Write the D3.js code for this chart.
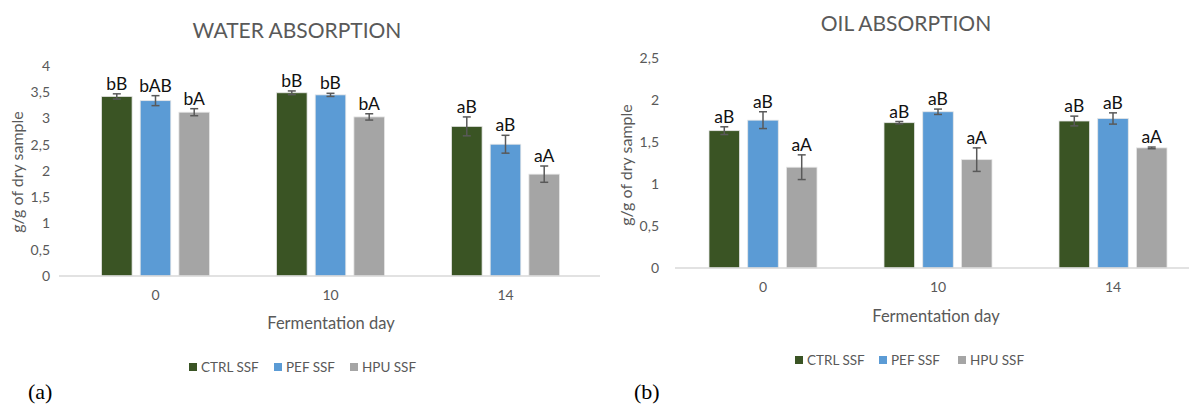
<!DOCTYPE html>
<html>
<head>
<meta charset="utf-8">
<script src="https://cdn.jsdelivr.net/npm/d3@7"></script>
<style>
  body { margin: 0; background: #fff; }
  svg text { font-family: Lato, "Open Sans", sans-serif; }
</style>
</head>
<body>
<div id="chart"></div>
<script>
// shared categories / series
var days = ["0", "10", "14"];
var series = ["CTRL SSF", "PEF SSF", "HPU SSF"];
var colors = ["#3a5424", "#5b9bd5", "#a5a5a5"];

// water absorption (g/g), per series over days
var waterCtrl = [3.42, 3.49, 2.85];
var waterPef = [3.34, 3.45, 2.51];
var waterHpu = [3.12, 3.03, 1.94];
var waterCtrlErr = [0.05, 0.035, 0.18];
var waterPefErr = [0.095, 0.03, 0.17];
var waterHpuErr = [0.067, 0.06, 0.155];
var waterLetters = [["bB", "bB", "aB"], ["bAB", "bB", "aB"], ["bA", "bA", "aA"]];
var waterTicks = [0, 0.5, 1, 1.5, 2, 2.5, 3, 3.5, 4];

// oil absorption (g/g)
var oilCtrl = [1.635, 1.73, 1.75];
var oilPef = [1.76, 1.86, 1.78];
var oilHpu = [1.20, 1.29, 1.43];
var oilCtrlErr = [0.046, 0.014, 0.058];
var oilPefErr = [0.1, 0.032, 0.067];
var oilHpuErr = [0.147, 0.14, 0.01];
var oilLetters = [["aB", "aB", "aB"], ["aB", "aB", "aB"], ["aA", "aA", "aA"]];
var oilTicks = [0, 0.5, 1, 1.5, 2, 2.5];

var svg = d3.select("#chart").append("svg")
	.attr("width", 1189)
	.attr("height", 407);

function fmt(v) {
	return String(v).replace(".", ",");
}

function drawPanel(cfg) {
	var g = svg.append("g");
	var values = cfg.values, errs = cfg.errs;

	var y = d3.scaleLinear().domain(cfg.domain).range([cfg.y0, cfg.y1]);
	var x = d3.scaleBand().domain(days).range(cfg.xRange).padding(0);
	var inner = d3.scaleBand().domain(series).range([-54, 54]).paddingInner(0.21).paddingOuter(0);

	// title
	g.append("text")
		.attr("x", cfg.titleX).attr("y", cfg.titleY)
		.attr("text-anchor", "middle")
		.attr("fill", "#595959")
		.style("font-size", "21px")
		.text(cfg.title);

	// y tick labels (no axis line, like Excel)
	var yAxis = d3.axisLeft(y).tickValues(cfg.ticks).tickSize(0).tickFormat(fmt);
	var ya = g.append("g")
		.attr("transform", "translate(" + cfg.yLabelX + ",0)")
		.call(yAxis);
	ya.select(".domain").remove();
	ya.selectAll("text")
		.attr("fill", "#595959")
		.style("font-size", "14px")
		.style("font-family", "Lato, sans-serif");

	// y title
	g.append("text")
		.attr("transform", "translate(" + cfg.yTitleX + "," + cfg.yTitleY + ") rotate(-90)")
		.attr("text-anchor", "middle")
		.attr("fill", "#595959")
		.style("font-size", "16px")
		.text("g/g of dry sample");

	// bars
	series.forEach(function(s, si) {
		var grp = g.append("g");
		grp.selectAll("rect")
			.data(values[si])
			.enter().append("rect")
			.attr("x", function(d, i) { return x(days[i]) + x.bandwidth() / 2 + inner(s); })
			.attr("y", function(d) { return y(d); })
			.attr("width", inner.bandwidth())
			.attr("height", function(d) { return y(0) - y(d); })
			.attr("fill", colors[si])
			.attr("stroke", "#e6e6e6")
			.attr("stroke-width", 0.8);

		// error bars + letters
		values[si].forEach(function(d, i) {
			var cx = x(days[i]) + x.bandwidth() / 2 + inner(s) + inner.bandwidth() / 2;
			var top = y(d + errs[si][i]), bot = y(d - errs[si][i]);
			var eb = grp.append("g").attr("stroke", "#595959").attr("stroke-width", 1.5);
			eb.append("line").attr("x1", cx).attr("x2", cx).attr("y1", top).attr("y2", bot);
			eb.append("line").attr("x1", cx - 4).attr("x2", cx + 4).attr("y1", top).attr("y2", top);
			eb.append("line").attr("x1", cx - 4).attr("x2", cx + 4).attr("y1", bot).attr("y2", bot);

			grp.append("text")
				.attr("x", cx)
				.attr("y", top - 4)
				.attr("text-anchor", "middle")
				.attr("fill", "#111")
				.style("font-size", "17.5px")
				.text(cfg.letters[si][i]);
		});
	});

	// x axis line
	g.append("line")
		.attr("x1", cfg.axisX[0]).attr("x2", cfg.axisX[1])
		.attr("y1", y(0)).attr("y2", y(0))
		.attr("stroke", "#d9d9d9").attr("stroke-width", 1.5);

	var xAxis = d3.axisBottom(x).tickSize(0).tickPadding(14);
	var xa = g.append("g")
		.attr("transform", "translate(0," + y(0) + ")")
		.call(xAxis);
	xa.select(".domain").remove();
	xa.selectAll("text")
		.attr("fill", "#595959")
		.style("font-size", "14px")
		.style("font-family", "Lato, sans-serif");

	g.append("text")
		.attr("x", cfg.xTitleX).attr("y", cfg.xTitleY)
		.attr("text-anchor", "middle")
		.attr("fill", "#595959")
		.style("font-size", "16.5px")
		.text("Fermentation day");

	// legend
	var lg = g.append("g").attr("transform", "translate(0," + cfg.legendY + ")");
	series.forEach(function(s, si) {
		var lx = cfg.legendX[si];
		lg.append("rect").attr("x", lx).attr("y", -9).attr("width", 8).attr("height", 8).attr("fill", colors[si]);
		lg.append("text").attr("x", lx + 12).attr("y", 0)
			.attr("fill", "#595959")
			.style("font-size", "13.5px")
			.text(s);
	});

	// panel tag
	g.append("text")
		.attr("x", cfg.tagX).attr("y", 399)
		.style("font-family", "'Liberation Serif', 'DejaVu Serif', serif")
		.style("font-size", "22px")
		.attr("fill", "#000")
		.text(cfg.tag);
}

drawPanel({
	title: "WATER ABSORPTION", titleX: 297, titleY: 38,
	values: [waterCtrl, waterPef, waterHpu],
	errs: [waterCtrlErr, waterPefErr, waterHpuErr],
	letters: waterLetters,
	domain: [0, 4], y0: 276, y1: 66, ticks: waterTicks,
	xRange: [68, 593], axisX: [59, 600],
	yLabelX: 53, yTitleX: 23, yTitleY: 172,
	xTitleX: 331, xTitleY: 329,
	legendX: [189, 274, 350], legendY: 372,
	tag: "(a)", tagX: 28
});

drawPanel({
	title: "OIL ABSORPTION", titleX: 906, titleY: 31,
	values: [oilCtrl, oilPef, oilHpu],
	errs: [oilCtrlErr, oilPefErr, oilHpuErr],
	letters: oilLetters,
	domain: [0, 2.5], y0: 268, y1: 58, ticks: oilTicks,
	xRange: [675.5, 1200.5], axisX: [675, 1189],
	yLabelX: 662, yTitleX: 632, yTitleY: 165,
	xTitleX: 936, xTitleY: 322,
	legendX: [795, 879, 958], legendY: 365,
	tag: "(b)", tagX: 634
});
</script>
</body>
</html>
